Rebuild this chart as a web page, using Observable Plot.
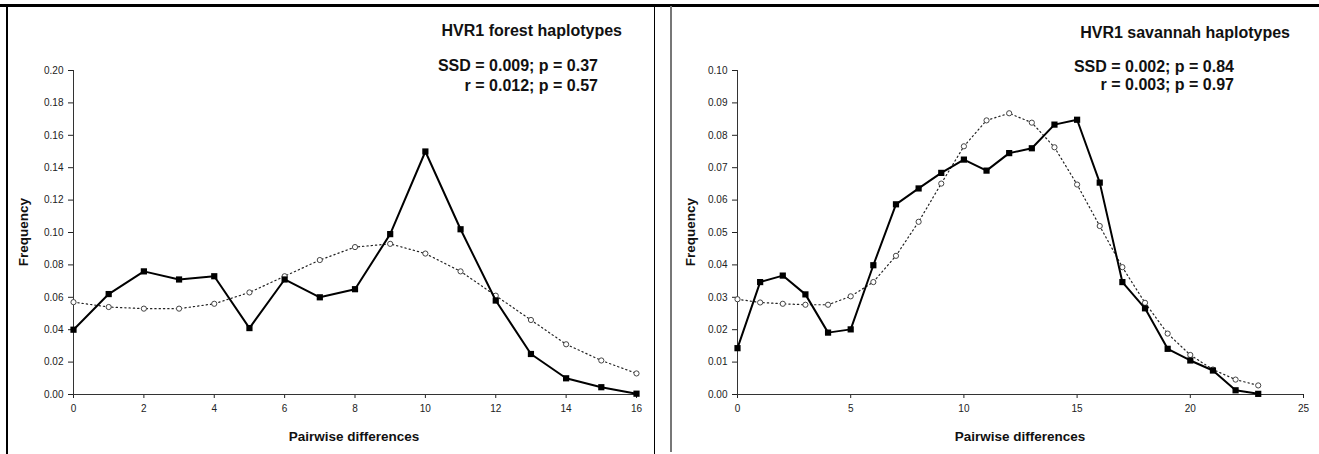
<!DOCTYPE html>
<html>
<head>
<meta charset="utf-8">
<script src="https://cdn.jsdelivr.net/npm/d3@7"></script>
<script src="https://cdn.jsdelivr.net/npm/@observablehq/plot@0.6"></script>
<style>
  body { margin: 0; background: #fff; font-family: Arial, "Liberation Sans", sans-serif; }
  #wrap { position: relative; width: 1319px; height: 454px; overflow: hidden; background: #fff; }
  .panel { position: absolute; top: 0; }
  .t { position: absolute; font-weight: bold; white-space: nowrap; color: #111; }
  .title { font-size: 16px; line-height: 16px; text-align: right; }
  .stat { font-size: 16px; line-height: 16px; text-align: right; }
  .xlab { font-size: 13.5px; line-height: 14px; text-align: center; width: 300px; }
  .ylab { font-size: 13.5px; line-height: 14px; text-align: center; width: 200px; transform: rotate(-90deg); }
  .bd { position: absolute; }
</style>
</head>
<body>
<div id="wrap"></div>
<script>
// ---- data ----
const forestDiff = [0, 1, 2, 3, 4, 5, 6, 7, 8, 9, 10, 11, 12, 13, 14, 15, 16];
const forestObserved = [0.040, 0.062, 0.076, 0.071, 0.073, 0.041, 0.071, 0.060, 0.065, 0.099, 0.150, 0.102, 0.058, 0.025, 0.010, 0.0045, 0.0005];
const forestExpected = [0.057, 0.054, 0.053, 0.053, 0.056, 0.063, 0.073, 0.083, 0.091, 0.093, 0.087, 0.076, 0.061, 0.046, 0.031, 0.021, 0.013];
const forestXTicks = [0, 2, 4, 6, 8, 10, 12, 14, 16];
const forestYTicks = [0, 0.02, 0.04, 0.06, 0.08, 0.10, 0.12, 0.14, 0.16, 0.18, 0.20];

const savannahDiff = [0, 1, 2, 3, 4, 5, 6, 7, 8, 9, 10, 11, 12, 13, 14, 15, 16, 17, 18, 19, 20, 21, 22, 23];
const savannahObserved = [0.0143, 0.0347, 0.0367, 0.0309, 0.0191, 0.0201, 0.0399, 0.0587, 0.0636, 0.0684, 0.0725, 0.0691, 0.0745, 0.0760, 0.0833, 0.0848, 0.0654, 0.0347, 0.0266, 0.0141, 0.0105, 0.0074, 0.0013, 0.0002];
const savannahExpected = [0.0294, 0.0284, 0.0280, 0.0277, 0.0277, 0.0303, 0.0347, 0.0428, 0.0533, 0.0651, 0.0766, 0.0846, 0.0868, 0.0839, 0.0763, 0.0648, 0.0520, 0.0393, 0.0283, 0.0188, 0.0122, 0.0077, 0.0046, 0.0028];
const savannahXTicks = [0, 5, 10, 15, 20, 25];
const savannahYTicks = [0, 0.01, 0.02, 0.03, 0.04, 0.05, 0.06, 0.07, 0.08, 0.09, 0.10];

const forestTitle = "HVR1 forest haplotypes";
const forestStats = ["SSD = 0.009; p = 0.37", "r = 0.012; p = 0.57"];
const savannahTitle = "HVR1 savannah haplotypes";
const savannahStats = ["SSD = 0.002; p = 0.84", "r = 0.003; p = 0.97"];
const xLabel = "Pairwise differences";
const yLabel = "Frequency";

// ---- drawing ----
const wrap = document.getElementById("wrap");

function rowsOf(diff, obs, exp) {
  return diff.map((d, i) => ({ diff: d, obs: obs[i], exp: exp[i] }));
}

function panel(rows, xDomain, yDomain, xTicks, yTicks, width, ml, mr) {
  return Plot.plot({
    width, height: 454,
    marginLeft: ml, marginRight: mr, marginTop: 70, marginBottom: 60,
    x: { domain: xDomain },
    y: { domain: yDomain },
    style: { background: "transparent", fontFamily: "Arial, 'Liberation Sans', sans-serif", overflow: "visible" },
    marks: [
      Plot.axisX({ ticks: xTicks, tickSize: 4, tickPadding: 6, fontSize: 10, label: null, color: "#222" }),
      Plot.axisY({ ticks: yTicks, tickFormat: d3.format(".2f"), tickSize: 5, tickPadding: 5, fontSize: 10, label: null, color: "#222" }),
      Plot.ruleX([xDomain[0]], { stroke: "#333", strokeWidth: 1 }),
      Plot.ruleY([0], { stroke: "#333", strokeWidth: 1 }),
      Plot.line(rows, { x: "diff", y: "exp", stroke: "#222", strokeWidth: 1.2, strokeDasharray: "1.3,3" }),
      Plot.dot(rows, { x: "diff", y: "exp", r: 2.6, fill: "white", stroke: "#444", strokeWidth: 1 }),
      Plot.line(rows, { x: "diff", y: "obs", stroke: "black", strokeWidth: 2 }),
      Plot.dot(rows, { x: "diff", y: "obs", symbol: "square", r: 3.5, fill: "black", stroke: "none" })
    ]
  });
}

const left = panel(rowsOf(forestDiff, forestObserved, forestExpected), [0, 16], [0, 0.20], forestXTicks, forestYTicks, 660, 73, 24);
left.classList.add("panel");
left.style.left = "0px";
wrap.appendChild(left);

const right = panel(rowsOf(savannahDiff, savannahObserved, savannahExpected), [0, 25], [0, 0.10], savannahXTicks, savannahYTicks, 659, 77, 16);
right.classList.add("panel");
right.style.left = "660px";
wrap.appendChild(right);

function text(cls, str, css) {
  const d = document.createElement("div");
  d.className = "t " + cls;
  d.textContent = str;
  Object.assign(d.style, css);
  wrap.appendChild(d);
  return d;
}

// forest annotations
text("title", forestTitle, { right: (1319 - 622) + "px", top: "23px" });
text("stat", forestStats[0], { right: (1319 - 598) + "px", top: "58px" });
text("stat", forestStats[1], { right: (1319 - 598) + "px", top: "78px" });
text("xlab", xLabel, { left: (354 - 150) + "px", top: "430px" });
text("ylab", yLabel, { left: (24 - 100) + "px", top: "225px" });

// savannah annotations
text("title", savannahTitle, { right: (1319 - 1290) + "px", top: "25px" });
text("stat", savannahStats[0], { right: (1319 - 1234) + "px", top: "59px" });
text("stat", savannahStats[1], { right: (1319 - 1234) + "px", top: "77px" });
text("xlab", xLabel, { left: (1020 - 150) + "px", top: "430px" });
text("ylab", yLabel, { left: (691 - 100) + "px", top: "225px" });

// frame borders
function box(css) {
  const d = document.createElement("div");
  d.className = "bd";
  Object.assign(d.style, css);
  wrap.appendChild(d);
}
box({ left: "0px", top: "4px", width: "1319px", height: "3px", background: "#000" });
box({ left: "6px", top: "4px", width: "2px", height: "450px", background: "#000" });
box({ left: "654px", top: "4px", width: "1px", height: "450px", background: "#000" });
box({ left: "670px", top: "6px", width: "2px", height: "446px", background: "#777" });
</script>
</body>
</html>
